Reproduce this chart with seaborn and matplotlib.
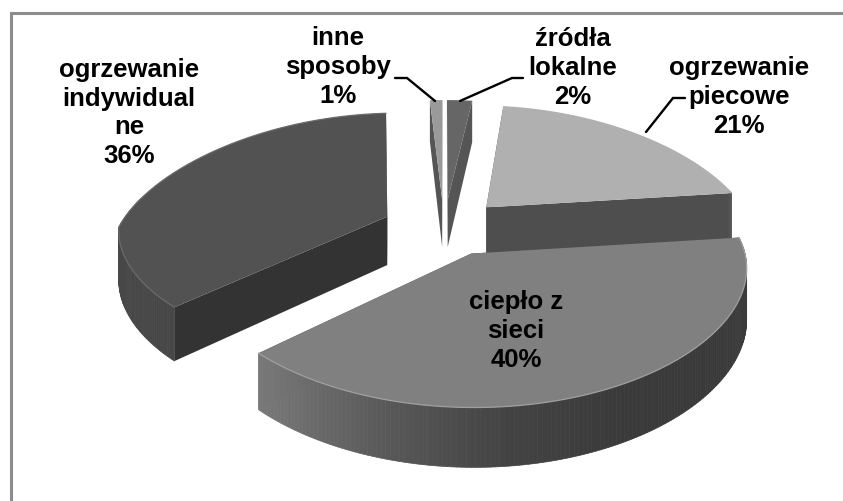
import numpy as np
import matplotlib
matplotlib.use("Agg")
import matplotlib.pyplot as plt
import seaborn as sns

labels = ["źródła\nlokalne\n2%", "ogrzewanie\npiecowe\n21%", "ciepło z\nsieci\n40%",
          "ogrzewanie\nindywidual\nne\n36%", "inne\nsposoby\n1%"]
values = [2, 21, 40, 36, 1]
top_colors = ["#666666", "#b0b0b0", "#808080", "#525252", "#9a9a9a"]
radial_colors = ["#555555", "#4e4e4e", "#4e4e4e", "#333333", "#555555"]
outer_colors = ["#5e5e5e", "#555555", "#3c3c3c", "#474747", "#666666"]
rim_colors = ["#666666", "#b0b0b0", "#a0a0a0", "#6a6a6a", "#9a9a9a"]

sns.set_theme(style="white")
plt.rcParams['font.family'] = ['Liberation Sans', 'DejaVu Sans']

X0, Y0, F, G, KY, E, H = 444, 228, 268, 122, 0.15, 0.233, 49
KX_BACK, KX_FRONT = 0.27, 0.10

def proj(u, v, drop=0.0):
    u, v = np.asarray(u, float), np.asarray(v, float)
    dx = 1 + np.where(v > 0, KX_BACK, KX_FRONT) * v
    dy = 1 + KY * v
    return X0 + F * u / dx, Y0 - G * v / dy + drop / dy

fig = plt.figure(figsize=(8.43, 5.02), dpi=100)
ax = fig.add_axes([0, 0, 1, 1])
ax.set_xlim(0, 843); ax.set_ylim(502, 0); ax.axis("off")
ax.plot([11, 11, 843], [502, 14, 14], color="#8c8c8c", lw=2.2, solid_joinstyle="miter")

fr = np.cumsum([0] + values) / sum(values)
slices = []
for i in range(len(values)):
    a0, a1 = 2*np.pi*fr[i], 2*np.pi*fr[i+1]
    mid = (a0 + a1) / 2
    slices.append((i, a0, a1, E*np.sin(mid), E*np.cos(mid)))

front_wall = sns.blend_palette(["#7a7a7a", "#5a5a5a", "#444444", "#3a3a3a", "#3a3a3a"], 100, as_cmap=True)

for i, a0, a1, ox, oy in sorted(slices, key=lambda s: -s[4]):
    th = np.linspace(a0, a1, 160)
    u = ox + np.sin(th); v = oy + np.cos(th)
    xa, ya = proj(ox, oy); xab, yab = proj(ox, oy, H)
    for a in (a0, a1):
        x1, y1 = proj(ox+np.sin(a), oy+np.cos(a))
        x2, y2 = proj(ox+np.sin(a), oy+np.cos(a), H)
        ax.fill([xa, x1, x2, xab], [ya, y1, y2, yab], color=radial_colors[i], lw=0)
    for j in range(len(th)-1):
        x1, y1 = proj(u[j], v[j]); x2, y2 = proj(u[j+1], v[j+1])
        x3, y3 = proj(u[j+1], v[j+1], H); x4, y4 = proj(u[j], v[j], H)
        if np.cos(th[j]) < 0.15:
            c = front_wall(np.clip((x1 - 258) / 490, 0, 1)) if i == 2 else outer_colors[i]
            ax.fill([x1, x2, x3, x4], [y1, y2, y3, y4], color=c, lw=0.5, ec=c)
    xs, ys = proj(u, v)
    ax.fill(np.r_[xa, xs], np.r_[ya, ys], color=top_colors[i], lw=0)
    if values[i] > 2:
        ax.plot(xs, ys, color=rim_colors[i], lw=0.9)

txt = dict(ha="center", va="center", fontsize=18.5, fontweight="bold", color="black", linespacing=1.26)
ax.text(573, 68, labels[0], **txt)
ax.text(739, 97, labels[1], **txt)
ax.text(516, 331, labels[2], **txt)
ax.text(129, 113, labels[3], **txt)
ax.text(338, 67, labels[4], **txt)
for xs, ys in [([395, 407, 435], [79, 79, 102]), ([523, 512, 460], [79, 79, 102]), ([685, 673, 646], [99, 99, 133])]:
    ax.plot(xs, ys, color="black", lw=1.7, solid_joinstyle="miter")
fig.savefig("out.png", dpi=100)
